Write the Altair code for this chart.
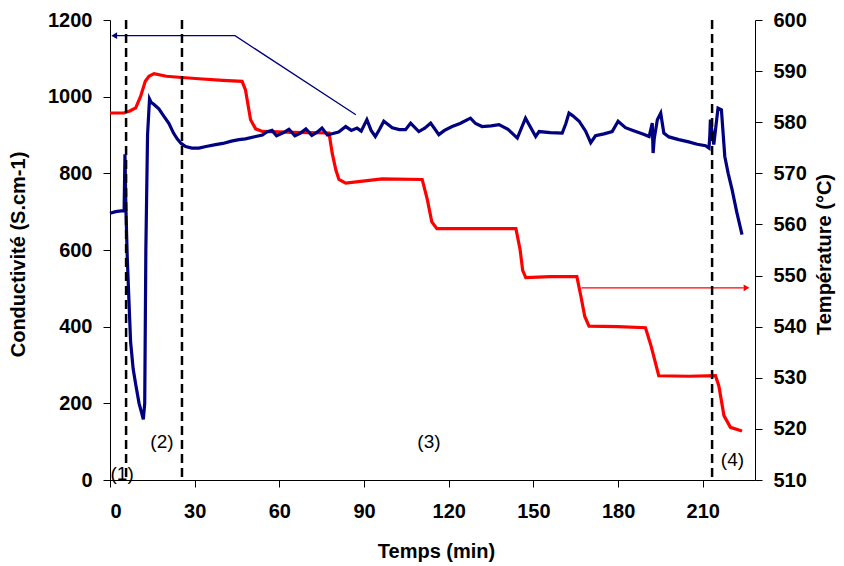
import altair as alt
import pandas as pd

# ---------------- data ----------------
time_cond = [0, 2, 4, 5.0, 5.3, 5.6, 6.1, 6.7, 7.3, 8.2, 9.1, 10.3, 11.2, 11.8, 12.3, 12.7,
             13.3, 14.0, 14.6, 15.5, 17.3, 19.0, 20.9, 22.5, 23.8, 25.2, 26.8, 29, 31.5, 34,
             37.4, 40, 43, 45.7, 48, 51.6, 54, 55.5, 57.4, 59, 61.5, 63.4, 65.5, 67.5, 69.4,
             71.5, 73.5, 75.1, 77, 79, 81, 83.5, 85.5, 87.5, 89, 91, 92.5, 94, 95.5, 97, 100,
             102.5, 104.7, 106.5, 109.4, 111.5, 113.6, 116.5, 118.5, 121.2, 124, 127.7, 129.5,
             131.8, 135, 137.8, 141, 144.3, 147.2, 150.8, 152, 156, 160.2, 161.5, 162.6, 164,
             166.2, 168.5, 170.3, 172, 175, 177.9, 180, 182.6, 186, 189, 191, 192.1, 192.4,
             192.8, 193.9, 195.1, 196.2, 198, 201.5, 205, 208, 211, 212.2, 212.5, 212.7, 213.9,
             215.4, 216.6, 217.8, 219, 220.4, 222, 223.9]
conductivity = [696, 700, 702, 702, 850, 720, 583, 470, 360, 290, 250, 200, 175, 158, 200, 600,
                900, 994, 985, 980, 968, 950, 930, 905, 890, 878, 870, 866, 866, 870,
                875, 878, 884, 888, 890, 896, 900, 908, 912, 898, 906, 915, 898, 905, 916,
                899, 908, 918, 900, 904, 908, 922, 912, 918, 910, 940, 912, 896, 915, 936, 919,
                914, 914, 931, 909, 918, 931, 901, 912, 922, 930, 944, 930,
                922, 924, 927, 915, 892, 944, 896, 909, 906, 905, 930, 957, 950,
                936, 910, 880, 898, 903, 909, 936, 919, 910, 902, 896, 931, 853,
                890, 940, 957, 905, 895, 888, 882, 876, 872, 866, 900, 940, 875,
                970, 966, 844, 800, 757, 700, 640]

time_temp = [0, 4.9, 7, 9.1, 10.8, 12.5, 13.8, 15.6, 20, 24.4, 31.5, 40, 46.8, 48, 49.8, 51.6,
             54, 65, 77.6, 78.7, 80, 81.1, 83.5, 96.4, 110.6, 112.4, 114, 115.8, 130, 143.8,
             145.3, 146.2, 147.3, 156, 165.4, 166.8, 168.2, 169.7, 180, 189.7, 191.7, 194.4,
             205, 214.5, 215.7, 217.5, 219.8, 223.9]
temperature = [581.8, 581.8, 582.2, 582.8, 585, 588, 589, 589.5, 589, 588.8, 588.5, 588.2, 588,
               586.3, 580.5, 578.7, 578.2, 578, 577.9, 574, 570.7, 568.8, 568.1, 568.9, 568.8,
               564.9, 560.5, 559.2, 559.2, 559.2, 555, 551, 549.6, 549.8, 549.8, 546, 542,
               540.1, 540, 539.8, 536.2, 530.4, 530.3, 530.4, 528.4, 522.6, 520.3, 519.6]

phase_time = [5.7, 25.5, 213.3]

phase_labels = ["(1)", "(2)", "(3)", "(4)"]
phase_label_time = [4.3, 18.4, 113.0, 220.5]
phase_label_cond = [15, 99, 99, 52]

blue_arrow_time = [87.1, 44.3, 2.5]
blue_arrow_cond = [953, 1159, 1159]
blue_head_time = [1.5]
blue_head_cond = [1159]

red_arrow_time = [167.0, 224.5]
red_arrow_temp = [547.6, 547.6]
red_head_time = [225.5]
red_head_temp = [547.6]

x_ticks = [0, 30, 60, 90, 120, 150, 180, 210]
left_ticks = [0, 200, 400, 600, 800, 1000, 1200]
right_ticks = [510, 520, 530, 540, 550, 560, 570, 580, 590, 600]

BLUE = "#000080"
RED = "#FF0000"
FONT = "Liberation Sans"

# ---------------- frames ----------------
df_cond = pd.DataFrame({"t": time_cond, "c": conductivity})
df_temp = pd.DataFrame({"t": time_temp, "T": temperature})
df_phase = pd.DataFrame({"t": phase_time})
df_lab = pd.DataFrame({"t": phase_label_time, "c": phase_label_cond, "label": phase_labels})
df_barrow = pd.DataFrame({"t": blue_arrow_time, "c": blue_arrow_cond})
df_bhead = pd.DataFrame({"t": blue_head_time, "c": blue_head_cond})
df_rarrow = pd.DataFrame({"t": red_arrow_time, "T": red_arrow_temp})
df_rhead = pd.DataFrame({"t": red_head_time, "T": red_head_temp})

# ---------------- scales & axes ----------------
xscale = alt.Scale(domain=[0, 228.5], nice=False, zero=False)
xaxis = alt.Axis(values=x_ticks, format="d", title="Temps (min)", labelPadding=14,
                 titleX=326, titleY=71, titleBaseline="middle", titleAnchor="start",
                 titleAlign="center")
lscale = alt.Scale(domain=[0, 1200], nice=False)
laxis = alt.Axis(values=left_ticks, format="d", orient="left", title="Conductivité (S.cm-1)",
                 titleAngle=270, titleX=-92, titleY=234, titleBaseline="middle",
                 titleAlign="center", titleAnchor="start")
rscale = alt.Scale(domain=[510, 600], nice=False, zero=False)
raxis = alt.Axis(values=right_ticks, format="d", orient="right", title="Température (°C)",
                 titleAngle=270, titleX=69, titleY=234, titleBaseline="middle",
                 titleAlign="center", titleAnchor="start")

X = alt.X("t:Q", scale=xscale, axis=xaxis)
YL = alt.Y("c:Q", scale=lscale, axis=laxis)
YR = alt.Y("T:Q", scale=rscale, axis=raxis)

# ---------------- right (temperature) group ----------------
red_line = alt.Chart(df_temp).mark_line(color=RED, strokeWidth=3.2).encode(x=X, y=YR)
red_arrow = alt.Chart(df_rarrow).mark_line(color=RED, strokeWidth=1.3).encode(x=X, y=YR)
red_head = alt.Chart(df_rhead).mark_point(shape="triangle-right", filled=True, color=RED,
                                          size=45, opacity=1).encode(x=X, y=YR)
right_group = alt.layer(red_line, red_arrow, red_head)

# ---------------- left (conductivity) group ----------------
blue_line = alt.Chart(df_cond).mark_line(color=BLUE, strokeWidth=3.2).encode(x=X, y=YL)
rules = alt.Chart(df_phase).mark_rule(color="black", strokeWidth=2.5,
                                      strokeDash=[9, 5]).encode(x=X)
labels = alt.Chart(df_lab).mark_text(font=FONT, fontSize=19, color="black").encode(
    x=X, y=YL, text="label:N")
blue_arrow = alt.Chart(df_barrow).mark_line(color=BLUE, strokeWidth=1.3).encode(x=X, y=YL)
blue_head = alt.Chart(df_bhead).mark_point(shape="triangle-left", filled=True, color=BLUE,
                                           size=45, opacity=1).encode(x=X, y=YL)
left_group = alt.layer(blue_line, blue_arrow, blue_head, rules, labels)

chart = alt.layer(right_group, left_group).resolve_scale(y="independent").properties(
    width=645, height=460,
    padding={"left": 102, "top": 12, "right": 81, "bottom": 86},
    autosize=alt.AutoSizeParams(type="none"),
).configure_view(stroke=None).configure_axis(
    grid=False, domainColor="black", tickColor="black", domainWidth=1, tickWidth=1,
    tickSize=7, labelPadding=11, labelFont=FONT, labelFontSize=20, labelFontWeight="bold",
    labelColor="black", titleFont=FONT, titleFontSize=20, titleFontWeight="bold",
    titleColor="black",
)

chart.save("out.html", embed_options={"renderer": "svg", "actions": False})
